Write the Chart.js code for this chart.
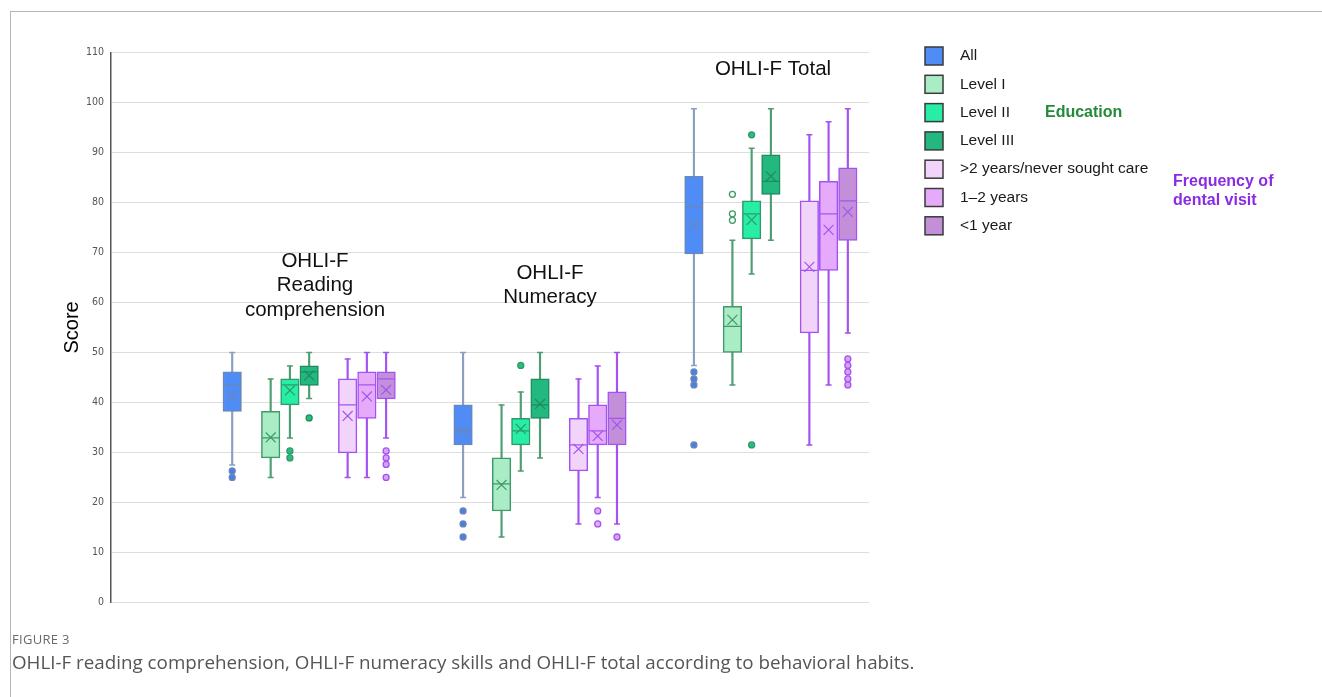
<!DOCTYPE html>
<html>
<head>
<meta charset="utf-8">
<script src="https://cdn.jsdelivr.net/npm/chart.js@4.4.1/dist/chart.umd.min.js"></script>
<style>
  body { margin: 0; background: #fff; }
  #wrap { position: relative; width: 1322px; height: 697px; overflow: hidden; }
  #frame { position: absolute; left: 10px; top: 11px; right: 0; bottom: 0;
           border-left: 1px solid #b5b5b5; border-top: 1px solid #b5b5b5; }
  #chart { position: absolute; left: 0; top: 0; }
  #fig { position: absolute; left: 12px; top: 630px; font: 13px "Open Sans", sans-serif; color: #6a6a6a; letter-spacing: 0.3px; }
  #cap { position: absolute; left: 12px; top: 649px; font: 18.8px "Open Sans", sans-serif; color: #555; white-space: nowrap; }
</style>
</head>
<body>
<div id="wrap">
  <div id="frame"></div>
  <canvas id="chart" width="1322" height="697"></canvas>
  <div id="fig">FIGURE 3</div>
  <div id="cap">OHLI-F reading comprehension, OHLI-F numeracy skills and OHLI-F total according to behavioral habits.</div>
</div>
<script>
// panels and series
const panels = ['Reading comprehension', 'Numeracy', 'Total'];
const series = ['All', 'Level I', 'Level II', 'Level III', '>2 years/never sought care', '1–2 years', '<1 year'];

// box plot stats, one row per series, one value per panel
const whiskerLow = [
  [27.5, 21.0, 47.4],
  [25.0, 13.1, 43.5],
  [32.9, 26.3, 65.7],
  [40.8, 28.9, 72.4],
  [25.0, 15.7, 31.5],
  [25.0, 21.0, 43.5],
  [32.9, 15.7, 53.9]
];
const q1 = [
  [38.2, 31.5, 69.7],
  [28.9, 18.3, 50.0],
  [39.5, 31.5, 72.7],
  [43.4, 36.8, 81.6],
  [29.9, 26.3, 53.9],
  [36.8, 31.5, 66.4],
  [40.7, 31.5, 72.4]
];
const median = [
  [43.5, 34.3, 79.0],
  [32.9, 23.7, 55.2],
  [43.5, 34.3, 77.7],
  [46.1, 39.5, 84.2],
  [39.5, 31.5, 66.4],
  [43.5, 34.3, 77.7],
  [44.7, 36.8, 80.3]
];
const q3 = [
  [46.1, 39.5, 85.2],
  [38.2, 28.9, 59.2],
  [44.7, 36.8, 80.3],
  [47.3, 44.7, 89.5],
  [44.7, 36.8, 80.3],
  [46.1, 39.5, 84.2],
  [46.1, 42.1, 86.9]
];
const whiskerHigh = [
  [50.0, 50.0, 98.7],
  [44.7, 39.5, 72.4],
  [47.3, 42.1, 90.8],
  [50.0, 50.0, 98.7],
  [48.7, 44.7, 93.5],
  [50.0, 47.3, 96.1],
  [50.0, 50.0, 98.7]
];
const mean = [
  [41.4, 34.2, 75.5],
  [33.0, 23.5, 56.5],
  [42.4, 34.7, 76.5],
  [45.4, 39.7, 85.2],
  [37.3, 30.7, 67.1],
  [41.2, 33.3, 74.5],
  [42.5, 35.5, 78.1]
];
const outliers = [
  [[26.3, 25.0], [18.3, 15.7, 13.1], [46.1, 44.7, 43.5, 31.5]],
  [[], [], [81.6, 77.7, 76.4]],
  [[30.3, 28.9], [47.4], [93.5, 31.5]],
  [[36.9], [], []],
  [[], [], []],
  [[], [18.3, 15.7], []],
  [[30.3, 28.9, 27.6, 25.0], [13.1], [48.7, 47.4, 46.1, 44.7, 43.5]]
];

const fills = ['#508cf5', '#aaecc5', '#28eda5', '#22b87f', '#f2d3f9', '#e6aafb', '#c48fd9'];
const borders = ['#6a87b9', '#3f9a69', '#2d9b6b', '#1f8c5c', '#a453f2', '#a453f2', '#a453f2'];
const whiskerColors = ['#8c9ec4', '#4f9d72', '#4f9d72', '#4f9d72', '#a453f2', '#a453f2', '#a453f2'];
const outlierFills = ['#4a80e0', '#ffffff', '#2bbd80', '#2bbd80', '#e0b0f5', '#e0b0f5', '#d8a2ef'];

// slot of each series inside a panel (gaps after "All" and after "Level III")
const slot = [0, 2, 3, 4, 6, 7, 8];
const xPos = (p, s) => p * 12 + slot[s];

const datasets = [];
series.forEach((name, s) => {
  datasets.push({
    type: 'bar', label: name + ' whisker', grouped: false, order: 10,
    data: panels.map((_, p) => ({ x: xPos(p, s), y: [whiskerLow[s][p], whiskerHigh[s][p]] })),
    backgroundColor: whiskerColors[s], borderWidth: 0, barThickness: 1.5
  });
  datasets.push({
    type: 'bar', label: name, grouped: false, order: 8,
    data: panels.map((_, p) => ({ x: xPos(p, s), y: [q1[s][p], q3[s][p]] })),
    backgroundColor: fills[s], borderColor: borders[s], borderWidth: 1.5,
    borderSkipped: false, barThickness: 18.5
  });
  datasets.push({
    type: 'scatter', label: name + ' caps', order: 6,
    data: panels.flatMap((_, p) => [
      { x: xPos(p, s), y: whiskerLow[s][p] },
      { x: xPos(p, s), y: whiskerHigh[s][p] }
    ]),
    pointStyle: 'line', radius: 3, borderColor: whiskerColors[s], borderWidth: 1.5
  });
  datasets.push({
    type: 'scatter', label: name + ' median', order: 6,
    data: panels.map((_, p) => ({ x: xPos(p, s), y: median[s][p] })),
    pointStyle: 'line', radius: 8.5, borderColor: borders[s], borderWidth: 1.3
  });
  datasets.push({
    type: 'scatter', label: name + ' mean', order: 5,
    data: panels.map((_, p) => ({ x: xPos(p, s), y: mean[s][p] })),
    pointStyle: 'crossRot', radius: 7, borderColor: borders[s], borderWidth: 1.2
  });
  datasets.push({
    type: 'scatter', label: name + ' outliers', order: 4,
    data: panels.flatMap((_, p) => outliers[s][p].map(v => ({ x: xPos(p, s), y: v }))),
    pointStyle: 'circle', radius: 3, backgroundColor: outlierFills[s],
    borderColor: borders[s], borderWidth: 1.3
  });
});

const annotations = {
  id: 'annotations',
  afterDraw(chart) {
    const ctx = chart.ctx;
    ctx.save();
    ctx.textAlign = 'center';
    ctx.textBaseline = 'middle';
    ctx.fillStyle = '#111';
    ctx.font = '20.5px "Liberation Sans", Arial, sans-serif';
    const labels = [
      { x: 315, y: 261, lines: ['OHLI-F', 'Reading', 'comprehension'] },
      { x: 550, y: 273, lines: ['OHLI-F', 'Numeracy'] },
      { x: 773, y: 69, lines: ['OHLI-F Total'] }
    ];
    labels.forEach(l => l.lines.forEach((t, i) => ctx.fillText(t, l.x, l.y + i * 24.5)));

    // legend
    ctx.textAlign = 'left';
    ctx.font = '15.5px "Liberation Sans", Arial, sans-serif';
    series.forEach((name, s) => {
      const cy = 56 + s * 28.3;
      ctx.fillStyle = fills[s];
      ctx.fillRect(925, cy - 9, 18, 18);
      ctx.strokeStyle = '#3a3a3a';
      ctx.lineWidth = 1.5;
      ctx.strokeRect(925, cy - 9, 18, 18);
      ctx.fillStyle = '#1a1a1a';
      ctx.fillText(name, 960, cy);
    });
    ctx.font = 'bold 16px "Liberation Sans", Arial, sans-serif';
    ctx.fillStyle = '#238a3b';
    ctx.fillText('Education', 1045, 112.6);
    ctx.fillStyle = '#8a2be2';
    ctx.fillText('Frequency of', 1173, 182);
    ctx.fillText('dental visit', 1173, 201);
    ctx.restore();
  }
};

new Chart(document.getElementById('chart'), {
  type: 'bar',
  data: { datasets: datasets },
  options: {
    responsive: false,
    animation: false,
    events: [],
    layout: { padding: { left: 0, right: 453, top: 52.3, bottom: 94.5 } },
    plugins: { legend: { display: false }, tooltip: { enabled: false } },
    scales: {
      x: {
        type: 'linear', min: -6.3, max: 33.1, offset: false, display: false,
        grid: { display: false }
      },
      y: {
        min: 0, max: 110,
        ticks: {
          stepSize: 10, padding: 7, color: '#555',
          font: { family: "'DejaVu Sans Condensed', sans-serif", size: 10.5 }
        },
        grid: { color: '#dddddd', lineWidth: 1, drawTicks: false },
        border: { display: true, color: '#555', width: 1.5 },
        title: {
          display: true, text: 'Score', color: '#000',
          font: { family: "'Liberation Sans', Arial, sans-serif", size: 20 },
          padding: { top: 60, bottom: 0 }
        },
        afterFit: scale => { scale.width = 111; }
      }
    }
  },
  plugins: [annotations]
});
</script>
</body>
</html>
